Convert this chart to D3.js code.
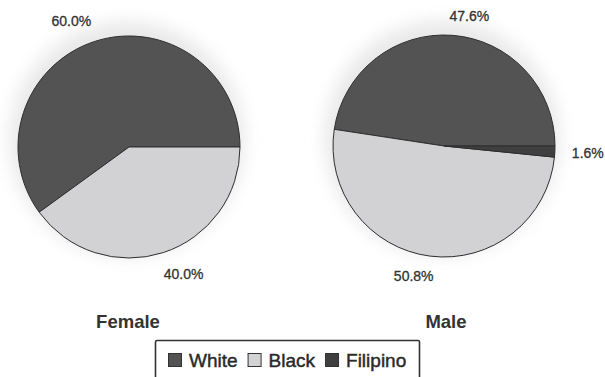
<!DOCTYPE html>
<html>
<head>
<meta charset="utf-8">
<script src="https://cdn.jsdelivr.net/npm/d3@7/dist/d3.min.js"></script>
<style>
  html, body { margin: 0; padding: 0; background: #fff; }
  svg { display: block; font-family: "Liberation Sans", Arial, sans-serif; }
</style>
</head>
<body>
<svg id="chart" width="605" height="377"></svg>
<script>
// Ethnic composition by sex (percent)
const groups = ["Female", "Male"];
const categories = ["White", "Black", "Filipino"];
const femaleValues = [60.0, 40.0, 0];
const maleValues = [47.6, 50.8, 1.6];
const seriesValues = [femaleValues, maleValues];

// Layout (pixels)
const pieCenters = [[129, 147], [444, 146]];
const radius = 111;
const labelRadius = 138;
// fine label nudges per pie, per slice
const labelNudge = [
  [[-15, 5], [12, -4], [0, 0]],
  [[15, 8], [-13, -7], [6, 0]]
];
const sliceColors = d3.scaleOrdinal().domain(categories).range(["#535353", "#d2d2d4", "#3f3f3f"]);

const svg = d3.select("#chart");

const defs = svg.append("defs");
defs.append("filter").attr("id", "haze").attr("x", "-30%").attr("y", "-30%").attr("width", "160%").attr("height", "160%")
  .append("feGaussianBlur").attr("stdDeviation", 9);

const pie = d3.pie().sort(null).value(d => d)
  .startAngle(Math.PI / 2).endAngle(Math.PI / 2 - 2 * Math.PI);
const arc = d3.arc().innerRadius(0).outerRadius(radius);

groups.forEach((g, gi) => {
  const [cx, cy] = pieCenters[gi];
  const root = svg.append("g").attr("transform", `translate(${cx},${cy})`);

  // soft halo behind the pie
  root.append("circle").attr("cx", -2).attr("cy", -8).attr("r", radius + 6)
    .attr("fill", "#e2e2e2").attr("opacity", 0.8).attr("filter", "url(#haze)");

  const arcs = pie(seriesValues[gi]);
  root.selectAll("path.slice").data(arcs.filter(d => d.value > 0)).join("path")
    .attr("class", "slice")
    .attr("d", arc)
    .attr("fill", d => sliceColors(categories[d.index]))
    .attr("stroke", "#2e2e2e")
    .attr("stroke-width", 1)
    .attr("stroke-linejoin", "round");

  root.selectAll("text.pct").data(arcs.filter(d => d.value > 0)).join("text")
    .attr("class", "pct")
    .attr("x", d => {
      const a = (d.startAngle + d.endAngle) / 2;
      return Math.sin(a) * labelRadius + labelNudge[gi][d.index][0];
    })
    .attr("y", d => {
      const a = (d.startAngle + d.endAngle) / 2;
      return -Math.cos(a) * labelRadius + labelNudge[gi][d.index][1] + 5;
    })
    .attr("text-anchor", "middle")
    .attr("font-size", 14)
    .attr("fill", "#333")
    .attr("stroke", "#333")
    .attr("stroke-width", 0.3)
    .text(d => d.value.toFixed(1) + "%");

  svg.append("text")
    .attr("x", cx - (gi === 0 ? 1 : -2))
    .attr("y", 328)
    .attr("text-anchor", "middle")
    .attr("font-size", 18.5)
    .attr("font-weight", "bold")
    .attr("fill", "#333")
    .text(g);
});

// Legend
const legend = svg.append("g");
legend.append("rect")
  .attr("x", 155.5).attr("y", 340.5).attr("width", 264).attr("height", 45)
  .attr("fill", "#fff").attr("stroke", "#333").attr("stroke-width", 1.6).attr("rx", 1.5);

let lx = 168;
categories.forEach((c, i) => {
  legend.append("rect")
    .attr("x", lx + 0.5).attr("y", 353.5).attr("width", 13).attr("height", 13)
    .attr("fill", sliceColors(c)).attr("stroke", "#333").attr("stroke-width", 1);
  const t = legend.append("text")
    .attr("x", lx + 21).attr("y", 367)
    .attr("font-size", 19)
    .attr("fill", "#2a2a2a")
    .attr("stroke", "#2a2a2a")
    .attr("stroke-width", 0.45)
    .text(c);
  lx += 21 + t.node().getComputedTextLength() + 10;
});
</script>
</body>
</html>
